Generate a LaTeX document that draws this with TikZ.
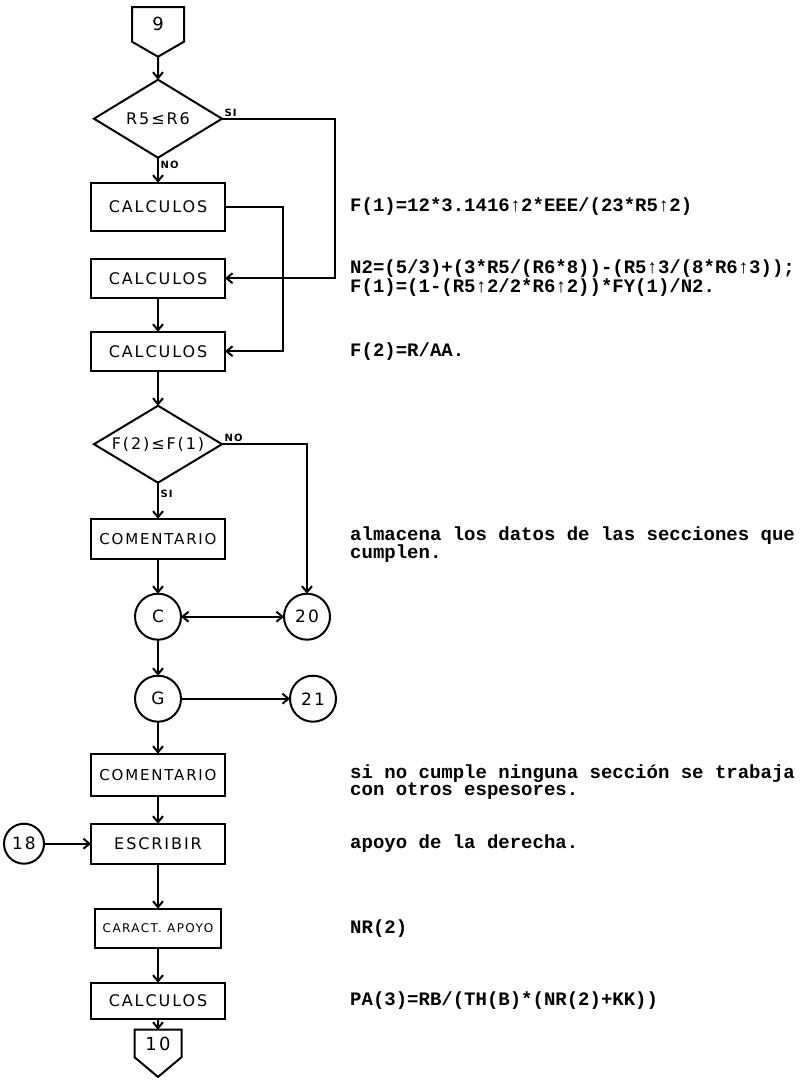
\documentclass[tikz,border=0pt]{standalone}
\usepackage{fontspec}
\setmonofont{Liberation Mono}
\newfontfamily\handfont[LetterSpace=12]{DejaVu Sans}
\usepackage{tikz}
\usetikzlibrary{arrows.meta,positioning,shapes.geometric,shapes.symbols}

\begin{document}
\begin{tikzpicture}[
        x=1pt, y=-1pt,
        every node/.style={font=\handfont\fontsize{16}{18}\selectfont, align=center},
        proc/.style={draw, line width=2pt, outer sep=0pt, minimum width=134pt, minimum height=40pt, inner sep=2pt},
        decision/.style={draw, diamond, aspect=1.6, line width=2pt, outer sep=0pt, minimum width=128pt, minimum height=78pt, inner sep=0pt},
        joint/.style={draw, circle, line width=2pt, outer sep=0pt, minimum size=46pt, inner sep=0pt, font=\handfont\fontsize{17}{19}\selectfont},
        offpage/.style={draw, shape=signal, signal to=south, line width=2pt, outer sep=0pt, inner sep=0pt, font=\handfont\fontsize{18}{20}\selectfont},
        note/.style={font=\ttfamily\bfseries\fontsize{19}{17}\selectfont, align=left, inner sep=0pt},
        tag/.style={font=\handfont\bfseries\fontsize{10}{11}\selectfont, inner sep=1.5pt},
        arrow/.style={-{Straight Barb[length=6pt, width=10pt]}, line width=2pt},
        dblarrow/.style={{Straight Barb[length=6pt, width=10pt]}-{Straight Barb[length=6pt, width=10pt]}, line width=2pt}
    ]
        \useasboundingbox (0,0) rectangle (804,1088);
        \node[offpage, signal pointer angle=120, minimum width=52pt, minimum height=38pt, anchor=north] (p9) at (158,7) {9};
        \node[decision, below=23pt of p9] (d1) {R5≤R6};
        \node[proc, minimum height=48pt, below=25pt of d1] (b1) {CALCULOS};
        \node[proc, minimum height=39pt, below=28pt of b1] (b2) {CALCULOS};
        \node[proc, minimum height=39pt, below=34pt of b2] (b3) {CALCULOS};
        \node[decision, minimum height=77pt, below=35pt of b3] (d2) {F(2)≤F(1)};
        \node[proc, below=36pt of d2, font=\handfont\fontsize{15}{17}\selectfont] (com1) {COMENTARIO};
        \node[joint, below=35pt of com1] (c) {C};
        \node[joint, right=103pt of c] (n20) {20};
        \node[joint, below=36pt of c] (g) {G};
        \node[joint, right=109pt of g] (n21) {21};
        \node[proc, minimum height=42pt, below=32pt of g, font=\handfont\fontsize{15}{17}\selectfont] (com2) {COMENTARIO};
        \node[proc, below=28pt of com2] (esc) {ESCRIBIR};
        \node[joint, minimum size=40pt, left=47pt of esc] (n18) {18};
        \node[proc, minimum width=126pt, minimum height=39pt, below=45pt of esc, font=\handfont\fontsize{12}{14}\selectfont] (car) {CARACT. APOYO};
        \node[proc, minimum height=36pt, below=35pt of car] (b4) {CALCULOS};
        \node[offpage, signal pointer angle=100, minimum width=47pt, minimum height=38pt, below=11pt of b4] (p10) {10};
        \node[note, right=125pt of b1] (t1) {F(1)=12*3.1416↑2*EEE/(23*R5↑2)};
        \node[note, right=125pt of b2] (t2) {N2=(5/3)+(3*R5/(R6*8))-(R5↑3/(8*R6↑3));\\F(1)=(1-(R5↑2/2*R6↑2))*FY(1)/N2.};
        \node[note, right=125pt of b3] (t3) {F(2)=R/AA.};
        \node[note, right=125pt of com1, yshift=-6pt] (t4) {almacena los datos de las secciones que\\cumplen.};
        \node[note, right=125pt of com2, yshift=-7pt] (t5) {si no cumple ninguna sección se trabaja\\con otros espesores.};
        \node[note, right=125pt of esc] (t6) {apoyo de la derecha.};
        \node[note, right=129pt of car] (t7) {NR(2)};
        \node[note, right=125pt of b4] (t8) {PA(3)=RB/(TH(B)*(NR(2)+KK))};
        \draw[arrow] (p9) -- (d1);
        \draw[arrow] (d1) -- node[tag, right, pos=0.3] {NO} (b1);
        \draw[arrow] (d1.east) node[tag, above right] {SI} -- ++(113pt,0) |- (b2.east);
        \draw[arrow] (b1.east) -- ++(58pt,0) |- (b3.east);
        \draw[arrow] (b2) -- (b3);
        \draw[arrow] (b3) -- (d2);
        \draw[arrow] (d2) -- node[tag, right, pos=0.3] {SI} (com1);
        \draw[arrow] (d2.east) node[tag, above right] {NO} -| (n20.north);
        \draw[arrow] (com1) -- (c);
        \draw[dblarrow] (c) -- (n20);
        \draw[arrow] (c) -- (g);
        \draw[arrow] (g) -- (n21);
        \draw[arrow] (g) -- (com2);
        \draw[arrow] (com2) -- (esc);
        \draw[arrow] (n18) -- (esc);
        \draw[arrow] (esc) -- (car);
        \draw[arrow] (car) -- (b4);
        \draw[arrow] (b4) -- (p10);
    \end{tikzpicture}
\end{document}
